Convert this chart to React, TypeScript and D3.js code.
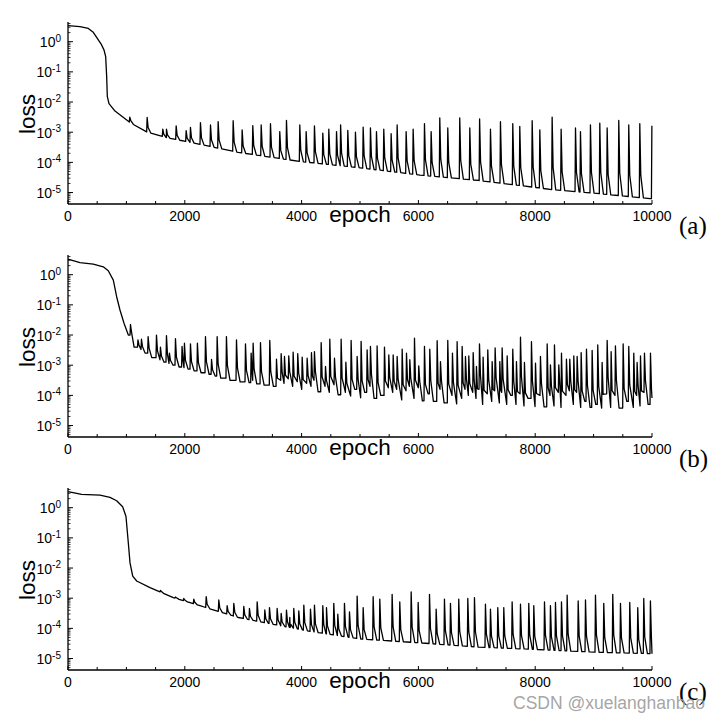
import React from "react";
import * as d3 from "d3";

// ---------------- data ----------------
const EPOCH_MAX = 10000;
const xMajorTicks = [0, 2000, 4000, 6000, 8000, 10000];
const xMinorTicks = [500, 1000, 1500, 2500, 3000, 3500, 4500, 5000, 5500, 6500, 7000, 7500, 8500, 9000, 9500];
const yDecades = [0, -1, -2, -3, -4, -5];
const yMinorMult = [2, 3, 4, 5, 6, 7, 8, 9];
const panelLabels = ["(a)", "(b)", "(c)"];
const xTitle = "epoch";
const yTitle = "loss";
const watermark = "CSDN @xuelanghanbao";

// values are log10(loss)
// ---- panel (a)
const aCurveEpoch = [0, 205, 348, 433, 502, 565, 616, 645, 662, 673, 702, 805, 1062, 1347, 1690, 2260, 2916, 3973, 5000, 6027, 7026, 7626, 8282, 9053, 9966];
const aCurveLog = [0.53, 0.5, 0.44, 0.31, 0.11, -0.07, -0.27, -0.49, -1.15, -1.81, -2.05, -2.3, -2.68, -2.99, -3.18, -3.4, -3.67, -3.97, -4.18, -4.42, -4.6, -4.74, -4.9, -5.03, -5.2];
const aSpikeEpoch = [1050, 1347, 1615, 1678, 1844, 2015, 2089, 2260, 2432, 2563, 2820, 2974, 3156, 3300, 3459, 3618, 3733, 3961, 4070, 4212, 4355, 4458, 4590, 4660, 4783, 4914, 5046, 5171, 5274, 5399, 5525, 5628, 5782, 5902, 6096, 6210, 6358, 6495, 6700, 6872, 7040, 7226, 7397, 7608, 7728, 7940, 8071, 8282, 8436, 8682, 8767, 8938, 9098, 9224, 9423, 9594, 9783, 9990];
const aSpikeLog = [-2.5, -2.51, -2.9, -2.9, -2.79, -2.95, -2.84, -2.68, -2.76, -2.65, -2.62, -2.92, -2.78, -2.76, -2.72, -2.98, -2.61, -2.76, -2.98, -2.79, -3.03, -2.9, -2.98, -2.76, -2.94, -3.0, -2.83, -2.86, -2.98, -2.9, -3.05, -2.76, -2.98, -2.9, -2.72, -2.98, -2.53, -2.86, -2.53, -2.86, -2.56, -2.9, -2.65, -2.72, -2.81, -2.62, -2.92, -2.5, -2.9, -2.86, -2.98, -2.76, -2.7, -2.86, -2.61, -2.76, -2.72, -2.79];

// ---- panel (b)
const bCurveEpoch = [0, 205, 433, 604, 690, 776, 833, 890, 959, 1033, 10000];
const bCurveLog = [0.52, 0.4, 0.35, 0.26, 0.13, -0.18, -0.73, -1.17, -1.61, -2.0, -4.09];
const bSpikeEpoch = [1062, 1190, 1250, 1364, 1507, 1575, 1678, 1729, 1832, 1945, 1986, 2089, 2208, 2346, 2450, 2546, 2705, 2877, 3031, 3128, 3162, 3288, 3447, 3562, 3642, 3699, 3772, 3847, 3926, 4002, 4087, 4161, 4212, 4327, 4401, 4475, 4555, 4669, 4750, 4840, 4943, 5011, 5114, 5171, 5285, 5411, 5485, 5560, 5628, 5714, 5788, 5845, 5925, 5998, 6096, 6187, 6313, 6370, 6495, 6575, 6655, 6741, 6798, 6855, 6930, 6986, 7038, 7100, 7180, 7255, 7306, 7386, 7426, 7512, 7608, 7671, 7740, 7808, 7928, 7997, 8082, 8197, 8253, 8322, 8396, 8442, 8527, 8584, 8653, 8710, 8779, 8870, 8967, 9063, 9138, 9224, 9292, 9366, 9498, 9594, 9680, 9737, 9795, 9863, 9966];
const bSpikeLog = [-1.65, -2.16, -2.14, -2.05, -2.0, -2.4, -2.02, -2.6, -2.12, -2.38, -2.27, -2.29, -2.27, -2.05, -2.81, -2.05, -2.05, -2.16, -2.29, -2.6, -2.27, -2.25, -2.18, -2.8, -2.62, -2.71, -2.69, -2.57, -2.62, -2.73, -2.77, -2.58, -2.55, -2.25, -3.04, -2.14, -2.77, -2.14, -2.9, -2.18, -2.71, -2.21, -2.49, -2.38, -2.36, -2.4, -2.66, -2.66, -2.71, -2.47, -2.6, -2.82, -2.1, -3.02, -2.38, -2.47, -2.19, -2.88, -2.18, -2.6, -2.22, -2.38, -2.71, -2.69, -2.58, -3.04, -2.29, -2.73, -2.49, -2.88, -2.43, -2.88, -2.43, -2.69, -2.47, -2.88, -2.07, -2.91, -2.22, -2.93, -2.71, -2.29, -2.99, -2.33, -2.99, -2.6, -2.8, -2.8, -2.69, -2.71, -2.58, -2.47, -2.51, -2.33, -2.91, -2.18, -2.55, -2.36, -2.29, -2.38, -2.6, -2.91, -2.69, -2.6, -2.6];
const bValleyLog = [-2.0, -2.4, -2.48, -2.6, -2.75, -2.82, -2.9, -2.94, -3.0, -3.06, -3.08, -3.13, -3.19, -3.25, -3.3, -3.36, -3.43, -3.5, -3.55, -3.58, -3.5, -3.62, -3.66, -3.7, -3.5, -3.6, -3.45, -3.7, -3.55, -3.8, -3.6, -3.7, -3.5, -3.88, -3.7, -3.9, -3.65, -3.98, -3.9, -4.02, -3.8, -4.08, -3.9, -3.7, -4.1, -4.0, -3.75, -3.9, -3.8, -4.15, -3.85, -3.7, -4.1, -3.75, -4.18, -3.95, -4.2, -3.8, -4.25, -4.0, -4.28, -4.1, -3.8, -4.0, -3.9, -4.1, -3.8, -4.3, -3.95, -4.2, -3.85, -4.25, -3.9, -4.3, -4.0, -4.3, -3.95, -4.35, -4.1, -4.37, -4.0, -4.38, -4.0, -4.35, -3.9, -4.4, -4.0, -3.85, -4.3, -3.9, -4.4, -4.2, -4.4, -4.3, -4.42, -3.95, -4.4, -4.0, -4.42, -4.2, -4.4, -4.0, -4.35, -3.9, -4.3];

// ---- panel (c)
const cCurveEpoch = [0, 234, 548, 719, 833, 936, 993, 1033, 1062, 1108, 1176, 1404, 1803, 2260, 2916, 4087, 5000, 6027, 7026, 8025, 9053, 10000];
const cCurveLog = [0.53, 0.44, 0.42, 0.34, 0.23, 0.03, -0.29, -1.17, -1.83, -2.27, -2.43, -2.65, -2.98, -3.25, -3.64, -4.08, -4.35, -4.48, -4.62, -4.7, -4.79, -4.84];
const cSpikeEpoch = [1575, 1832, 1975, 2146, 2358, 2574, 2717, 2831, 3002, 3099, 3231, 3362, 3442, 3573, 3642, 3733, 3790, 3858, 3944, 4030, 4144, 4212, 4355, 4418, 4543, 4612, 4726, 4812, 4943, 5046, 5217, 5331, 5542, 5673, 5868, 5988, 6182, 6296, 6438, 6541, 6683, 6838, 6952, 7140, 7226, 7351, 7454, 7597, 7740, 7882, 7968, 8151, 8253, 8339, 8442, 8539, 8728, 8853, 9024, 9166, 9320, 9452, 9611, 9748, 9851, 9965];
const cSpikeLog = [-2.74, -2.96, -3.01, -3.03, -2.95, -3.06, -3.25, -3.17, -3.27, -3.34, -3.12, -3.39, -3.31, -3.34, -3.5, -3.4, -3.64, -3.34, -3.42, -3.23, -3.36, -3.23, -3.25, -3.31, -3.17, -3.53, -3.17, -3.45, -2.93, -3.31, -2.95, -3.03, -2.87, -3.12, -2.79, -3.14, -2.87, -3.36, -3.03, -3.17, -3.03, -3.01, -2.98, -3.2, -3.36, -3.31, -3.31, -3.12, -3.2, -3.17, -3.25, -3.12, -3.25, -3.14, -3.12, -2.9, -3.09, -3.06, -2.9, -3.17, -2.87, -3.17, -3.14, -3.31, -3.01, -3.09];

// ---------------- layout / style ----------------
const W = 723;
const H = 722;
const LEFT = 68;
const RIGHT = 652;
const PANEL_TOPS = [22, 255, 488];
const PANEL_H = 182;
const LOG_MIN = -5.38;
const LOG_MAX = 0.653;
// spike shape (in epochs)
const RISE = 8;
const TAIL = 25;
const TAIL_FRAC = 0.3;
const BACK = 70;
const SANS = "'Liberation Sans', Arial, Helvetica, sans-serif";
const SERIF = "'Liberation Serif', 'Times New Roman', serif";

type Pt = [number, number];

function buildSeries(curveE: number[], curveL: number[], spikeE: number[], spikeL: number[], valleyL?: number[]): Pt[] {
  const base = d3.scaleLinear().domain(curveE).range(curveL);
  const pts: Pt[] = [];
  curveE.forEach((e, i) => {
    const inside = valleyL
      ? e > spikeE[0] && e < EPOCH_MAX
      : spikeE.some((s) => e > s && e < s + BACK);
    if (!inside || e === EPOCH_MAX) pts.push([e, curveL[i]]);
  });
  spikeE.forEach((e, i) => {
    const b0 = valleyL ? valleyL[i] : base(e);
    const p = spikeL[i];
    pts.push([e, b0], [e + RISE, p], [e + TAIL, b0 + TAIL_FRAC * (p - b0)]);
    if (!valleyL) {
      pts.push([e + BACK, base(e + BACK)]);
    } else if (i + 1 < spikeE.length && spikeE[i + 1] > e + BACK + 20) {
      pts.push([e + BACK, valleyL[i + 1]]);
    }
  });
  pts.sort((p, q) => p[0] - q[0]);
  return pts.filter((p) => p[0] <= EPOCH_MAX);
}

const seriesList: Pt[][] = [
  buildSeries(aCurveEpoch, aCurveLog, aSpikeEpoch, aSpikeLog),
  buildSeries(bCurveEpoch, bCurveLog, bSpikeEpoch, bSpikeLog, bValleyLog),
  buildSeries(cCurveEpoch, cCurveLog, cSpikeEpoch, cSpikeLog),
];

function Panel({ top, label, data }: { top: number; label: string; data: Pt[] }) {
  const bottom = top + PANEL_H;
  const x = d3.scaleLinear().domain([0, EPOCH_MAX]).range([LEFT, RIGHT]);
  const y = d3.scaleLog().domain([Math.pow(10, LOG_MIN), Math.pow(10, LOG_MAX)]).range([bottom, top]);
  const line = d3
    .line<Pt>()
    .x((d) => x(d[0]))
    .y((d) => y(Math.pow(10, d[1])));

  const minor: number[] = [];
  for (let dd = -6; dd <= 0; dd++) {
    yMinorMult.forEach((m) => {
      const v = m * Math.pow(10, dd);
      if (Math.log10(v) >= LOG_MIN && Math.log10(v) <= LOG_MAX) minor.push(v);
    });
  }

  return (
    <g>
      <path d={line(data) || ""} fill="none" stroke="#000" strokeWidth={1.3} strokeLinejoin="round" />
      {/* axes */}
      <line x1={LEFT} x2={LEFT} y1={top} y2={bottom} stroke="#000" strokeWidth={1.3} />
      <line x1={LEFT} x2={RIGHT} y1={bottom} y2={bottom} stroke="#000" strokeWidth={1.3} />
      {yDecades.map((dd) => (
        <line key={"ym" + dd} x1={LEFT} x2={LEFT + 5} y1={y(Math.pow(10, dd))} y2={y(Math.pow(10, dd))} stroke="#000" strokeWidth={1} />
      ))}
      {minor.map((v, i) => (
        <line key={"yn" + i} x1={LEFT} x2={LEFT + 2.5} y1={y(v)} y2={y(v)} stroke="#000" strokeWidth={0.8} />
      ))}
      {xMajorTicks.map((t) => (
        <line key={"xm" + t} x1={x(t)} x2={x(t)} y1={bottom} y2={bottom - 4} stroke="#000" strokeWidth={1} />
      ))}
      {xMinorTicks.map((t) => (
        <line key={"xn" + t} x1={x(t)} x2={x(t)} y1={bottom} y2={bottom - 3} stroke="#000" strokeWidth={1} />
      ))}
      {/* tick labels */}
      {yDecades.map((dd) => (
        <text key={"yl" + dd} x={61} y={y(Math.pow(10, dd)) + 5.5} textAnchor="end" fontFamily={SANS} fontSize={14} fill="#000">
          <tspan>10</tspan>
          <tspan fontSize={10} dy={-5.5}>{String(dd)}</tspan>
        </text>
      ))}
      {xMajorTicks.map((t) => (
        <text key={"xl" + t} x={x(t)} y={bottom + 16.5} textAnchor="middle" fontFamily={SANS} fontSize={14} fill="#000">
          {String(t)}
        </text>
      ))}
      <text x={x(5000)} y={bottom + 18} textAnchor="middle" fontFamily={SANS} fontSize={22.5} fill="#000">
        {xTitle}
      </text>
      <text transform={`translate(35,${top + 92}) rotate(-90)`} textAnchor="middle" fontFamily={SANS} fontSize={22.5} fill="#000">
        {yTitle}
      </text>
      <text x={679} y={bottom + 30} fontFamily={SERIF} fontSize={25} fill="#000">
        {label}
      </text>
    </g>
  );
}

export default function App() {
  return (
    <svg width={W} height={H} viewBox={`0 0 ${W} ${H}`} style={{ position: "absolute", left: 0, top: 0, background: "#fff" }}>
      <rect x={0} y={0} width={W} height={H} fill="#fff" />
      {PANEL_TOPS.map((t, i) => (
        <Panel key={i} top={t} label={panelLabels[i]} data={seriesList[i]} />
      ))}
      <text x={513} y={709} fontFamily={SANS} fontSize={17.5} fill="#9a9a9a" fillOpacity={0.9}>
        {watermark}
      </text>
    </svg>
  );
}
